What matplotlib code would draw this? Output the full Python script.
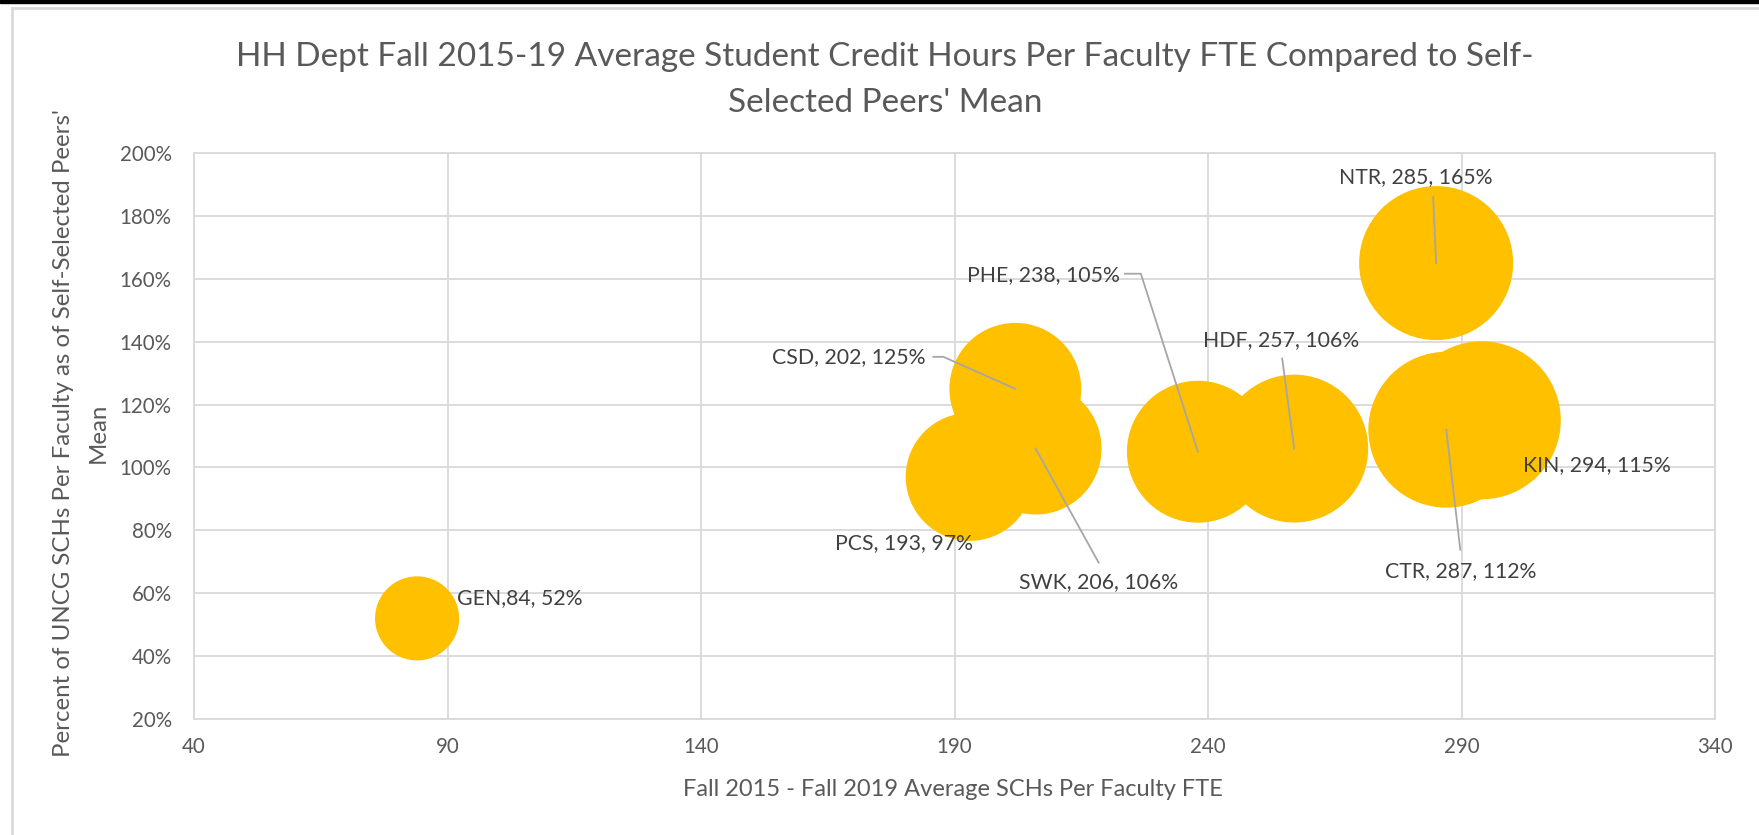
import matplotlib
matplotlib.use('Agg')
import matplotlib.pyplot as plt
from matplotlib.transforms import IdentityTransform

plt.rcParams['font.family'] = ['Lato', 'DejaVu Sans']

# data
depts = ['GEN', 'PCS', 'SWK', 'CSD', 'PHE', 'HDF', 'NTR', 'CTR', 'KIN']
sch_per_fte = [84, 193, 206, 202, 238, 257, 285, 287, 294]
pct_of_peers = [52, 97, 106, 125, 105, 106, 165, 112, 115]
bubble_value = [8.5, 19.7, 20.9, 20.9, 24.2, 26.3, 28.5, 29.2, 30.0]
point_labels = ['GEN,84, 52%', 'PCS, 193, 97%', 'SWK, 206, 106%', 'CSD, 202, 125%',
                'PHE, 238, 105%', 'HDF, 257, 106%', 'NTR, 285, 165%',
                'CTR, 287, 112%', 'KIN, 294, 115%']

x_ticks = [40, 90, 140, 190, 240, 290, 340]
y_ticks = [20, 40, 60, 80, 100, 120, 140, 160, 180, 200]

TITLE = "HH Dept Fall 2015-19 Average Student Credit Hours Per Faculty FTE Compared to Self-\nSelected Peers' Mean"
XLABEL = 'Fall 2015 - Fall 2019 Average SCHs Per Faculty FTE'
YLABEL = "Percent of UNCG SCHs Per Faculty as of Self-Selected Peers'\nMean"

GOLD = '#FFC000'
TXT = '#595959'
LABEL_TXT = '#404040'
GRID = '#D9D9D9'
LEADER = '#A6A6A6'

# label placement, pixel offsets from bubble centre (y up), and leader polylines
label_place = {
    'GEN': (40, 20, 'left'),
    'PCS': (-66, -66, 'center'),
    'SWK': (63, -134, 'center'),
    'CSD': (-167, 32, 'center'),
    'PHE': (-154, 177, 'center'),
    'HDF': (-13, 108, 'center'),
    'NTR': (-20, 86, 'center'),
    'CTR': (14, -141, 'center'),
    'KIN': (41, -45, 'left'),
}
leaders = {
    'SWK': [(63, -114), (0, 0)],
    'CSD': [(-82, 32), (-72, 32), (0, 0)],
    'PHE': [(-73, 178), (-57, 178), (0, 0)],
    'HDF': [(-12, 90), (0, 0)],
    'NTR': [(-3, 66), (0, 0)],
    'CTR': [(14, -120), (0, 0)],
}

W, H = 1759, 835
fig = plt.figure(figsize=(W / 100, H / 100), dpi=100)

# black strip at the very top and the light chart-area frame
fig.patches.append(plt.Rectangle((0, 1 - 3 / H), 1, 3 / H, transform=fig.transFigure,
                                 color='black', zorder=0))
fig.add_artist(plt.Line2D([11.5 / W, 11.5 / W], [0, 1 - 8 / H], transform=fig.transFigure,
                          color=GRID, lw=2))
fig.add_artist(plt.Line2D([11.5 / W, 1], [1 - 8 / H, 1 - 8 / H], transform=fig.transFigure,
                          color=GRID, lw=2))

ax = fig.add_axes([194 / W, (H - 719) / H, 1521 / W, 566 / H])
ax.set_xlim(40, 340)
ax.set_ylim(20, 200)
ax.set_xticks(x_ticks)
ax.set_yticks(y_ticks)
ax.set_yticklabels([f'{v}%' for v in y_ticks])
ax.grid(True, color=GRID, lw=1.3)
ax.set_axisbelow(True)
for s in ax.spines.values():
    s.set_color(GRID)
    s.set_linewidth(1.3)
ax.tick_params(length=0, labelsize=14.8, colors=TXT)
ax.tick_params(axis='x', pad=13)
ax.tick_params(axis='y', pad=16)

# bubble radius in px, area proportional to value
r_max = 79
sizes = [(1.44 * r_max * (v / max(bubble_value)) ** 0.5) ** 2 for v in bubble_value]
ax.scatter(sch_per_fte, pct_of_peers, s=sizes, color=GOLD, linewidths=0, zorder=2)

for name, x, y, lab in zip(depts, sch_per_fte, pct_of_peers, point_labels):
    dx, dy, ha = label_place[name]
    ax.annotate(lab, (x, y), xytext=(dx * 0.72, dy * 0.72), textcoords='offset points',
                ha=ha, va='center', fontsize=15.3, color=LABEL_TXT, zorder=4)
    if name in leaders:
        cx, cy = ax.transData.transform((x, y))
        pts = leaders[name]
        ax.add_line(plt.Line2D([cx + p[0] for p in pts], [cy + p[1] for p in pts],
                               transform=IdentityTransform(), color=LEADER, lw=1.3, zorder=3))

fig.text(885 / W, 1 - 80 / H, TITLE, ha='center', va='center', fontsize=24,
         color=TXT, linespacing=1.7)
fig.text(953 / W, 1 - 789 / H, XLABEL, ha='center', va='center', fontsize=17, color=TXT)
fig.text(81 / W, 1 - 433 / H, YLABEL, ha='center', va='center', rotation=90,
         fontsize=17.3, color=TXT, linespacing=1.8, multialignment='center')

fig.savefig('out.png', dpi=100)
